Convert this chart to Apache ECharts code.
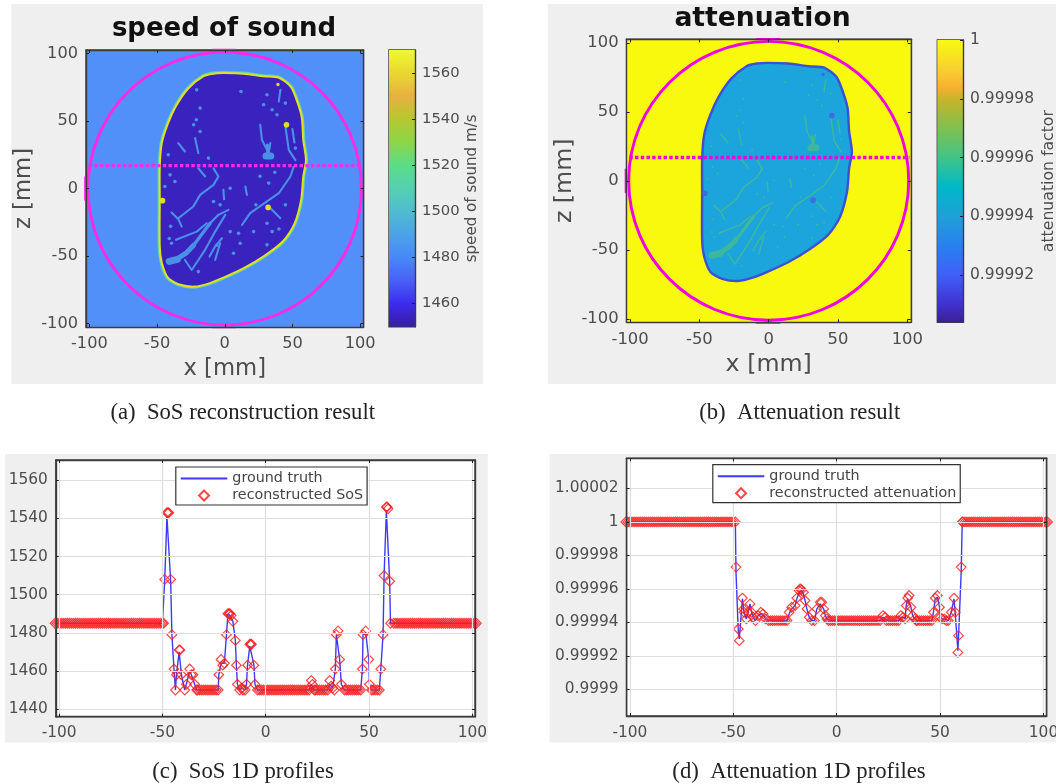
<!DOCTYPE html>
<html><head><meta charset="utf-8">
<style>html,body{margin:0;padding:0;background:#fff}#c{width:1056px;height:784px;filter:blur(0.5px)}</style>
<script src="https://cdn.jsdelivr.net/npm/echarts@6/dist/echarts.min.js"></script>
</head><body><div id="c"></div>
<script>
// ---------- values ----------
const mapTicks = [-100,-50,0,50,100];
const mapRange = [-102.5,102.5];
const sosBarTicks = [1460,1480,1500,1520,1540,1560];
const sosBarRange = [1450,1570];
const sosBarStopValues = [1450,1455,1460,1470,1480,1490,1500,1510,1520,1530,1540,1550,1560,1570];
const sosBarStopColors = ['#38209c','#3a22c8','#3c2cf0','#4860f8','#4888f8','#4ca2e8','#50bcd0','#55d0b0','#5cdc88','#8cd648','#b5c830','#e8b040','#e8d830','#effa30'];
const attBarTicks = [0.99992,0.99994,0.99996,0.99998,1];
const attBarRange = [0.999904,1];
const attBarStopValues = [0.999904,0.99991,0.99992,0.99993,0.99994,0.99995,0.99996,0.99997,0.99998,0.999984,0.99999,1];
const attBarStopColors = ['#3a2095','#4030d0','#4060f8','#2880f0','#1ea0d8','#00b8c8','#40c488','#80c050','#c8b428','#f8b030','#f8d030','#f8fa10'];
const sosProfileTicksY = [1440,1460,1480,1500,1520,1540,1560];
const attProfileTicksY = [0.9999,0.99992,0.99994,0.99996,0.99998,1,1.00002];

// tissue outline in mm (x, z)
const tissueOutline = [[-1,85.4],[14,85],[29,83],[40,82],[49,75],[54,63],[57,52],[58,36],[60,21],[58,9],[56.5,-8],[51.5,-26],[43,-39],[29,-50],[14,-59],[-1,-66],[-11,-70],[-22,-72.6],[-33.5,-71],[-42,-66],[-46.5,-55],[-48,-43],[-48,-8],[-48,16],[-46.5,33.6],[-42,48],[-36,61],[-27,74],[-16,83],[-8.5,85]];
// vessels in mm, by calibre
const vesselsBlob = [[[-41,-54],[-35,-52.5]],[[30.5,24],[34,24]]];
const vesselsWide = [[[-35,-52],[-28.1,-47.4],[-23,-42]]];
const vesselsMedium = [[[-23,-42],[-18.2,-35.6],[-10.8,-25.7]],[[31.5,32],[32,24]]];
const vesselsThin = [
 [[-10.8,-25.7],[-4.7,-19.5],[2.8,-15.8]],
 [[-29.4,-52.9],[-24.4,-60.3],[-14.5,-45.4],[-7.1,-31.9],[0.4,-19.5]],
 [[-36,-38],[-20.7,-31.9],[-13.3,-25.7]],
 [[-11.3,-50.4],[-7.1,-43],[-2.1,-36.8]],
 [[-7.1,-52.9],[-3.4,-40.5]],
 [[-39.3,-17.8],[-34.3,-22.7],[-31.8,-28.2]],
 [[-34.3,-22],[-23.2,-13.3],[-18.2,-4.7],[-8.3,2.7],[-4.7,8.9],[-8.3,15]],
 [[-19.5,15],[-14.5,8.9]],
 [[12.7,-27],[18.8,-18.3],[31.2,-9.6],[39.9,-3.5],[48.5,8.9],[51,16.3]],
 [[32.5,-13.3],[41.1,-22]],
 [[26.2,47.2],[27.5,36],[31.2,28.6]],
 [[33.7,33.6],[32,23.7]],
 [[44.8,46],[47.3,28.6],[52.2,21]],
 [[-21.9,37.3],[-19.5,26.2]],
 [[-34.3,33.6],[-29.4,27.4]],
 [[15.2,1.5],[16.4,-4.7]],
 [[41.1,73],[39.9,64.4]],
 [[50,44],[51.5,34]],
 [[-1,-1],[-0.5,-8]]
];
const vesselDots = [[12,71.8],[-21,50.9],[-18.2,42.2],[-23,47.2],[-41.7,25],[-12,22.5],[4,0.2],[32.5,4],[52.2,29.9],[31.2,69.4],[44.8,63.2],[35,58.3],[38.6,54.6],[28.7,62],[44.8,-12.1],[21.3,-31.9],[31.2,-25.7],[35,-31.9],[4,-31.9],[10.2,-33.1],[11.4,-40.5],[-19.5,-61.5],[6.5,-47.9],[-39.3,-40.5],[-40.4,10.1],[-36.8,5.2],[-44.2,1.5],[-3.4,-12.1],[-8.3,-9.6],[31.2,-41.7],[-18.2,59.5],[-20.7,73],[-40,-28],[-41,-37],[40,-30],[-6,-42],[23,-12],[26,9],[37,12]];
const hotSpots = [[45.6,47.2],[32,-14],[-46,-9]];
const faintSpots = [[39.3,77]];
const ringCentre = [0,0];
const ringRadius = 101;
const ringCaps = [[[-9,103],[8,103]],[[-9,-103],[8,-103]],[[-103.4,8.5],[-103.4,-8.5]]];
const scanLineX = [-100.5,101.5];
const scanLineZ = [16.9,16.9];

// 1D profile, speed of sound
const sosX = [-102,-101,-100,-99,-98,-97,-96,-95,-94,-93,-92,-91,-90,-89,-88,-87,-86,-85,-84,-83,-82,-81,-80,-79,-78,-77,-76,-75,-74,-73,-72,-71,-70,-69,-68,-67,-66,-65,-64,-63,-62,-61,-60,-59,-58,-57,-56,-55,-54,-53,-52,-51,-50,-49.4,-48.9,-47.8,-47.3,-46.9,-46,-45.4,-44.4,-43.7,-43.2,-41.9,-41.5,-40.8,-39.2,-38.4,-36.8,-36,-35.2,-34.4,-33.4,-33,-32,-31,-30,-29,-28,-27,-26,-25,-24,-23,-22.7,-21.6,-20.8,-20,-19,-18.3,-17.8,-17.3,-16.7,-15.9,-14.7,-14.2,-13.7,-12.6,-11.6,-11,-10,-9.3,-8.8,-7.7,-7.2,-6.9,-5.7,-5.2,-4,-3,-2,-1,0,1,2,3,4,5,6,7,8,9,10,11,12,13,14,15,16,17,18,19,20,21,22.1,22.6,23.5,24,25,26,27,28,29,30,31,31.6,32.4,33.2,33.7,34.2,35,35.8,36.6,38.1,39,40,41,42,43,44,45,46,46.8,47.1,48.4,49.9,50.2,51.2,52,53,54,55,55.7,56.8,57.3,58.4,58.8,59.2,60,60.4,62,63,64,65,66,67,68,69,70,71,72,73,74,75,76,77,78,79,80,81,82,83,84,85,86,87,88,89,90,91,92,93,94,95,96,97,98,99,100,101,102];
const sosRecon = [1485,1485,1485,1485,1485,1485,1485,1485,1485,1485,1485,1485,1485,1485,1485,1485,1485,1485,1485,1485,1485,1485,1485,1485,1485,1485,1485,1485,1485,1485,1485,1485,1485,1485,1485,1485,1485,1485,1485,1485,1485,1485,1485,1485,1485,1485,1485,1485,1485,1485,1485,1485,1485,1485,1508,1543,1543,1543,1508,1479,1461,1450,1458,1471,1471,1458,1450,1453,1461,1458,1458,1453,1450,1450,1450,1450,1450,1450,1450,1450,1450,1450,1450,1450,1458,1466,1463,1464,1479,1490,1490,1490,1489,1486,1476,1463,1453,1450,1451,1450,1450,1453,1463,1474,1474,1474,1463,1453,1450,1450,1450,1450,1450,1450,1450,1450,1450,1450,1450,1450,1450,1450,1450,1450,1450,1450,1450,1450,1450,1450,1450,1450,1450,1450,1455,1453,1450,1450,1450,1450,1450,1450,1450,1450,1455,1452,1451,1450,1461,1479,1481,1466,1453,1450,1450,1450,1450,1450,1450,1450,1450,1450,1461,1479,1481,1466,1453,1450,1450,1450,1450,1450,1461,1479,1510,1546,1546,1545,1507,1485,1485,1485,1485,1485,1485,1485,1485,1485,1485,1485,1485,1485,1485,1485,1485,1485,1485,1485,1485,1485,1485,1485,1485,1485,1485,1485,1485,1485,1485,1485,1485,1485,1485,1485,1485,1485,1485,1485,1485,1485,1485];
const sosTruth = [1485,1485,1485,1485,1485,1485,1485,1485,1485,1485,1485,1485,1485,1485,1485,1485,1485,1485,1485,1485,1485,1485,1485,1485,1485,1485,1485,1485,1485,1485,1485,1485,1485,1485,1485,1485,1485,1485,1485,1485,1485,1485,1485,1485,1485,1485,1485,1485,1485,1485,1485,1485,1485,1485,1507,1541,1542,1541,1507,1479,1461,1450,1458,1470,1470,1458,1450,1453,1460,1458,1458,1453,1450,1450,1450,1450,1450,1450,1450,1450,1450,1450,1450,1450,1458,1464,1463,1464,1479,1490,1489,1489,1488,1486,1476,1463,1453,1450,1451,1450,1450,1453,1463,1473,1473,1473,1463,1453,1450,1450,1450,1450,1450,1450,1450,1450,1450,1450,1450,1450,1450,1450,1450,1450,1450,1450,1450,1450,1450,1450,1450,1450,1450,1450,1453,1452,1450,1450,1450,1450,1450,1450,1450,1450,1453,1452,1451,1450,1461,1479,1480,1466,1453,1450,1450,1450,1450,1450,1450,1450,1450,1450,1461,1479,1480,1466,1453,1450,1450,1450,1450,1450,1461,1479,1510,1544,1545,1544,1507,1485,1485,1485,1485,1485,1485,1485,1485,1485,1485,1485,1485,1485,1485,1485,1485,1485,1485,1485,1485,1485,1485,1485,1485,1485,1485,1485,1485,1485,1485,1485,1485,1485,1485,1485,1485,1485,1485,1485,1485,1485,1485];

// 1D profile, attenuation
const attX = [-102,-101,-100,-99,-98,-97,-96,-95,-94,-93,-92,-91,-90,-89,-88,-87,-86,-85,-84,-83,-82,-81,-80,-79,-78,-77,-76,-75,-74,-73,-72,-71,-70,-69,-68,-67,-66,-65,-64,-63,-62,-61,-60,-59,-58,-57,-56,-55,-54,-53,-52,-51,-50,-49,-48.7,-47.6,-47.1,-45.6,-45,-44.8,-43.7,-42.9,-41.9,-41.2,-40.4,-39.3,-38,-36.7,-35.6,-34.4,-33,-32,-31,-30,-29,-28,-27,-26,-25,-24,-23,-21.8,-20.1,-19.3,-18.2,-17.7,-16.9,-16.1,-15.3,-14.4,-13.3,-12,-10.7,-9.6,-8,-7.2,-6.3,-5.5,-4.7,-4,-3,-2,-1,0,1,2,3,4,5,6,7,8,9,10,11,12,13,14,15,16,17,18,19,20,21,22.4,23.4,24,25,26,27,28,29,30,31,32.1,33.1,33.6,34.3,35,35.9,36.7,37.8,38.5,39,40,41,42,43,44,45,46,46.8,47.6,48.7,49.7,50,51,52.1,53,54,55.4,56.7,57.3,58.6,58.9,60.2,60.7,61,62,63,64,65,66,67,68,69,70,71,72,73,74,75,76,77,78,79,80,81,82,83,84,85,86,87,88,89,90,91,92,93,94,95,96,97,98,99,100,101,102];
const attRecon = [1,1,1,1,1,1,1,1,1,1,1,1,1,1,1,1,1,1,1,1,1,1,1,1,1,1,1,1,1,1,1,1,1,1,1,1,1,1,1,1,1,1,1,1,1,1,1,1,1,1,1,1,1,1,0.999973,0.999936,0.999929,0.9999545,0.999948,0.999946,0.999942,0.999946,0.999951,0.999946,0.999943,0.999941,0.999944,0.999946,0.999945,0.999942,0.999941,0.999941,0.999941,0.999941,0.999941,0.999941,0.999941,0.999941,0.999941,0.999941,0.999946,0.999949,0.99995,0.9999545,0.999959,0.99996,0.9999595,0.999958,0.999953,0.999948,0.999943,0.999941,0.999941,0.999948,0.999952,0.999952,0.999948,0.999944,0.999942,0.999941,0.999941,0.999941,0.999941,0.999941,0.999941,0.999941,0.999941,0.999941,0.999941,0.999941,0.999941,0.999941,0.999941,0.999941,0.999941,0.999941,0.999941,0.999941,0.999941,0.999941,0.999941,0.999941,0.999941,0.999941,0.999941,0.999944,0.999943,0.999941,0.999941,0.999941,0.999941,0.999941,0.999941,0.999941,0.999944,0.999943,0.999942,0.99995,0.9999545,0.999956,0.999949,0.999944,0.999942,0.999941,0.999941,0.999941,0.999941,0.999941,0.999941,0.999941,0.999941,0.999941,0.999946,0.9999545,0.999956,0.999949,0.999943,0.999942,0.999942,0.999941,0.999941,0.999946,0.9999545,0.999946,0.999922,0.999932,0.999973,1,1,1,1,1,1,1,1,1,1,1,1,1,1,1,1,1,1,1,1,1,1,1,1,1,1,1,1,1,1,1,1,1,1,1,1,1,1,1,1,1,1,1];
const attTruth = [1,1,1,1,1,1,1,1,1,1,1,1,1,1,1,1,1,1,1,1,1,1,1,1,1,1,1,1,1,1,1,1,1,1,1,1,1,1,1,1,1,1,1,1,1,1,1,1,1,1,1,1,1,1,0.99997,0.999935,0.99993,0.999954,0.999948,0.999946,0.999942,0.999946,0.999951,0.999946,0.999943,0.999941,0.999944,0.999945,0.999945,0.999942,0.999941,0.999941,0.999941,0.999941,0.999941,0.999941,0.999941,0.999941,0.999941,0.999941,0.999945,0.999948,0.99995,0.999954,0.999958,0.999959,0.999959,0.999957,0.999953,0.999948,0.999943,0.999941,0.999941,0.999948,0.999951,0.999951,0.999948,0.999944,0.999942,0.999941,0.999941,0.999941,0.999941,0.999941,0.999941,0.999941,0.999941,0.999941,0.999941,0.999941,0.999941,0.999941,0.999941,0.999941,0.999941,0.999941,0.999941,0.999941,0.999941,0.999941,0.999941,0.999941,0.999941,0.999941,0.999941,0.999943,0.999942,0.999941,0.999941,0.999941,0.999941,0.999941,0.999941,0.999941,0.999943,0.999943,0.999942,0.99995,0.999954,0.999955,0.999949,0.999944,0.999942,0.999941,0.999941,0.999941,0.999941,0.999941,0.999941,0.999941,0.999941,0.999941,0.999946,0.999954,0.999955,0.999949,0.999943,0.999942,0.999942,0.999941,0.999941,0.999946,0.999954,0.999946,0.999923,0.999931,0.99997,1,1,1,1,1,1,1,1,1,1,1,1,1,1,1,1,1,1,1,1,1,1,1,1,1,1,1,1,1,1,1,1,1,1,1,1,1,1,1,1,1,1,1];

// ---------- layout and styling ----------
const FONT = 'DejaVu Sans';
const TICK = '#4d4d4d', EDGE = '#3c3c3c';
const grids = [
 {left:86,top:50,width:277.5,height:277},
 {left:389,top:50,width:26,height:276.7},
 {left:626.6,top:39.3,width:284.2,height:283},
 {left:937.3,top:40,width:25.7,height:282.3},
 {left:55.8,top:460,width:419.2,height:256.7,backgroundColor:'#fff'},
 {left:626.6,top:458.3,width:420,height:257.7,backgroundColor:'#fff'}
].map(g=>Object.assign({show:true,outerBoundsMode:'none',containLabel:false,borderColor:EDGE,borderWidth:1.4,backgroundColor:'transparent'},g));

const xAxes=[], yAxes=[];
function addAxis(list,o){
  const ticks=o.ticks;
  const main = o.main!==false;
  list.push({
    type:'value',gridIndex:o.grid,min:o.range[0],max:o.range[1],position:o.position,
    z:30,scale:true,
    axisLine:{show:true,onZero:false,lineStyle:{color:EDGE,width:1.4}},
    axisTick:{show:true,inside:true,length:3,customValues:ticks,lineStyle:{color:'#222',width:1}},
    axisLabel:{show:main&&!o.noLabel,customValues:ticks,margin:o.margin,fontFamily:FONT,fontSize:o.fontSize,color:TICK,
      formatter:v=>String(+(+v).toFixed(5)),hideOverlap:false,showMinLabel:true,showMaxLabel:true},
    splitLine:{show:!!o.split,lineStyle:{color:'#dedede',width:1.2}},
    name:o.name||'',nameLocation:'middle',nameGap:o.nameGap,nameRotate:o.nameRotate,nameMoveOverlap:false,
    nameTextStyle:{fontFamily:FONT,fontSize:o.nameSize,color:o.nameColor||TICK}
  });
  return list.length-1;
}
function mapAxes(g,fs,nameSize,xGap,yGap){
  const x=addAxis(xAxes,{grid:g,range:mapRange,ticks:mapTicks,position:'bottom',fontSize:fs,margin:9,name:'x [mm]',nameGap:xGap,nameSize});
  const y=addAxis(yAxes,{grid:g,range:mapRange,ticks:mapTicks,position:'left',fontSize:fs,margin:8,name:'z [mm]',nameGap:yGap,nameSize,nameRotate:90});
  addAxis(xAxes,{grid:g,range:mapRange,ticks:mapTicks,position:'top',main:false});
  addAxis(yAxes,{grid:g,range:mapRange,ticks:mapTicks,position:'right',main:false});
  return [x,y];
}
function barAxes(g,range,ticks,fs,name,nameSize,gap){
  const x=xAxes.push({type:'value',gridIndex:g,min:0,max:1,show:false})-1;
  const y=addAxis(yAxes,{grid:g,range,ticks,position:'right',fontSize:fs,margin:7,name,nameGap:gap,nameSize,nameRotate:90});
  return [x,y];
}
function profileAxes(g,rangeX,ticksY,rangeY){
  const x=addAxis(xAxes,{grid:g,range:rangeX,ticks:mapTicks,position:'bottom',fontSize:15.4,margin:9,split:true});
  const y=addAxis(yAxes,{grid:g,range:rangeY,ticks:ticksY,position:'left',fontSize:15.4,margin:8,split:true});
  addAxis(xAxes,{grid:g,range:rangeX,ticks:mapTicks,position:'top',main:false});
  addAxis(yAxes,{grid:g,range:rangeY,ticks:ticksY,position:'right',main:false});
  return [x,y];
}

function custom(ax,items,render,z){
  return {type:'custom',xAxisIndex:ax[0],yAxisIndex:ax[1],data:items,renderItem:render,silent:true,z:z||2,clip:false,animation:false};
}
function polyline(api,pts,color,w){
  return {type:'polyline',shape:{points:pts.map(p=>api.coord(p))},style:{stroke:color,lineWidth:w,fill:null,lineCap:'round',lineJoin:'round'}};
}
function mapSeries(ax,c){
  const s=[];
  s.push(custom(ax,[mapRange],(p,api)=>{
    const a=api.coord([mapRange[0],mapRange[1]]),b=api.coord([mapRange[1],mapRange[0]]);
    return {type:'rect',shape:{x:a[0],y:a[1],width:b[0]-a[0],height:b[1]-a[1]},style:{fill:c.bg}};
  },1));
  s.push(custom(ax,[0],(p,api)=>{
    const pts=tissueOutline.map(q=>api.coord(q));
    const kids=[];
    c.rim.forEach(r=>kids.push({type:'polygon',shape:{points:pts,smooth:0.25},style:{fill:c.tissue,stroke:r[0],lineWidth:r[1],lineJoin:'round'}}));
    return {type:'group',children:kids};
  },2));
  [[vesselsBlob,c.vw[0]],[vesselsWide,c.vw[1]],[vesselsMedium,c.vw[2]],[vesselsThin,c.vw[3]]].forEach(([set,w])=>{
    s.push(custom(ax,set.map((v,i)=>i),(p,api)=>polyline(api,set[p.dataIndex],c.vessel,w),3));
  });
  s.push(custom(ax,vesselDots.map((v,i)=>i),(p,api)=>{
    const q=api.coord(vesselDots[p.dataIndex]);
    return {type:'circle',shape:{cx:q[0],cy:q[1],r:c.dot},style:{fill:c.vessel}};
  },3));
  [[hotSpots,2.8],[faintSpots,1.7]].forEach(([set,r])=>{
    s.push(custom(ax,set.map((v,i)=>i),(p,api)=>{
      const q=api.coord(set[p.dataIndex]);
      return {type:'circle',shape:{cx:q[0],cy:q[1],r},style:{fill:c.spot}};
    },4));
  });
  s.push(custom(ax,[0],(p,api)=>{
    const q=api.coord(ringCentre),sz=api.size([ringRadius,ringRadius]);
    return {type:'ellipse',shape:{cx:q[0],cy:q[1],rx:sz[0],ry:sz[1]},style:{fill:null,stroke:c.ring,lineWidth:2.9}};
  },5));
  s.push(custom(ax,ringCaps.map((v,i)=>i),(p,api)=>polyline(api,ringCaps[p.dataIndex],c.ring,1.3),5));
  s.push({type:'line',xAxisIndex:ax[0],yAxisIndex:ax[1],data:scanLineX.map((x,i)=>[x,scanLineZ[i]]),symbol:'none',silent:true,z:6,clip:false,animation:false,
    lineStyle:{color:c.ring,width:3.4,type:[3.4,2.3],cap:'butt'}});
  return s;
}
function barSeries(ax,range,values,colors){
  const span=range[1]-range[0];
  const stops=values.map((v,i)=>({offset:1-(v-range[0])/span,color:colors[i]})).reverse();
  return custom(ax,[0],(p,api)=>{
    const a=api.coord([0,range[1]]),b=api.coord([1,range[0]]);
    return {type:'rect',shape:{x:a[0],y:a[1],width:b[0]-a[0],height:b[1]-a[1]},
      style:{fill:new echarts.graphic.LinearGradient(0,0,0,1,stops)}};
  },2);
}
function profileSeries(ax,xs,truth,recon,reconName){
  return [
    {type:'line',name:'ground truth',xAxisIndex:ax[0],yAxisIndex:ax[1],data:xs.map((x,i)=>[x,truth[i]]),symbol:'none',clip:false,z:3,silent:true,animation:false,
      lineStyle:{color:'#3b3bf5',width:1.4},itemStyle:{color:'#3b3bf5'}},
    {type:'scatter',name:reconName,xAxisIndex:ax[0],yAxisIndex:ax[1],data:xs.map((x,i)=>[x,recon[i]]),symbol:'diamond',symbolSize:9.6,clip:false,z:4,silent:true,animation:false,
      itemStyle:{color:'rgba(255,255,255,0)',borderColor:'#ff1c1c',borderWidth:1.2}}
  ];
}

const axA=mapAxes(0,16.2,22.7,31,50);
const axAb=barAxes(1,sosBarRange,sosBarTicks,14.8,'speed of sound m/s',15.1,50);
const axB=mapAxes(2,16.4,23.7,31,50);
const axBb=barAxes(3,attBarRange,attBarTicks,15.5,'attenuation factor',15.7,78);
const axC=profileAxes(4,[-101.6,101.3],sosProfileTicksY,[1436,1570.6]);
const axD=profileAxes(5,[-101.6,101.5],attProfileTicksY,[0.999884,1.000038]);

const series=[].concat(
  mapSeries(axA,{bg:'#5090f8',tissue:'#3a22be',vessel:'#4a90e6',spot:'#e0e020',ring:'#ff2ae6',dot:1.8,vw:[7,5,3.4,2.1],rim:[['#62d0ae',4.2],['#e4e020',2]]}),
  barSeries(axAb,sosBarRange,sosBarStopValues,sosBarStopColors),
  mapSeries(axB,{bg:'#f8f90c',tissue:'#1ca4dc',vessel:'#3cb89c',spot:'#3f6ae0',ring:'#f000e2',dot:1,vw:[7,5,3.2,1.5],rim:[['#3c50d4',2.4]]}),
  barSeries(axBb,attBarRange,attBarStopValues,attBarStopColors),
  profileSeries(axC,sosX,sosTruth,sosRecon,'reconstructed SoS'),
  profileSeries(axD,attX,attTruth,attRecon,'reconstructed attenuation')
);

function panel(x,y,w,h){return {type:'rect',shape:{x,y,width:w,height:h},style:{fill:'#efefef'},z:-10,silent:true};}
function label(text,x,y,size,family,weight,color){
  return {text,left:x,top:y,textAlign:'center',textVerticalAlign:'middle',padding:0,
    textStyle:{fontFamily:family,fontSize:size,fontWeight:weight,color}};
}
const DIAMOND='path://M0 -10L10 0L0 10L-10 0Z';
function legend(names,x,y){
  return {show:true,
    data:[{name:names[0],itemStyle:{color:'rgba(0,0,0,0)',borderWidth:0,opacity:0}},{name:names[1],icon:DIAMOND}],
    orient:'vertical',left:x,top:y,padding:[3,4,1,4],itemWidth:46.5,itemHeight:10,itemGap:0,align:'left',selectedMode:false,
    backgroundColor:'#fff',borderColor:'#333',borderWidth:1.2,z:40,symbolKeepAspect:true,
    textStyle:{fontFamily:FONT,fontSize:14.3,color:'#444',lineHeight:17}};
}

const option={
  backgroundColor:'#fff',animation:false,
  graphic:[panel(11.2,4,471.6,380),panel(547.8,4,508.2,380),panel(5,454,482.8,288.5),panel(549.5,454,506.5,288.5)],
  title:[
    label('speed of sound',224,29.5,26,FONT,'bold','#111'),
    label('attenuation',762.5,19,26.6,FONT,'bold','#111'),
    label('(a)  SoS reconstruction result',242.7,412.7,22.7,'Liberation Serif','normal','#222'),
    label('(b)  Attenuation result',799.7,412.7,22.7,'Liberation Serif','normal','#222'),
    label('(c)  SoS 1D profiles',243,772,22.7,'Liberation Serif','normal','#222'),
    label('(d)  Attenuation 1D profiles',799,772,22.7,'Liberation Serif','normal','#222')
  ],
  legend:[
    legend(['ground truth','reconstructed SoS'],175.8,467),
    legend(['ground truth','reconstructed attenuation'],712.8,464.7)
  ],
  grid:grids,xAxis:xAxes,yAxis:yAxes,series
};
const chart=echarts.init(document.getElementById('c'),null,{width:1056,height:784,renderer:'canvas'});
chart.setOption(option);
</script></body></html>
